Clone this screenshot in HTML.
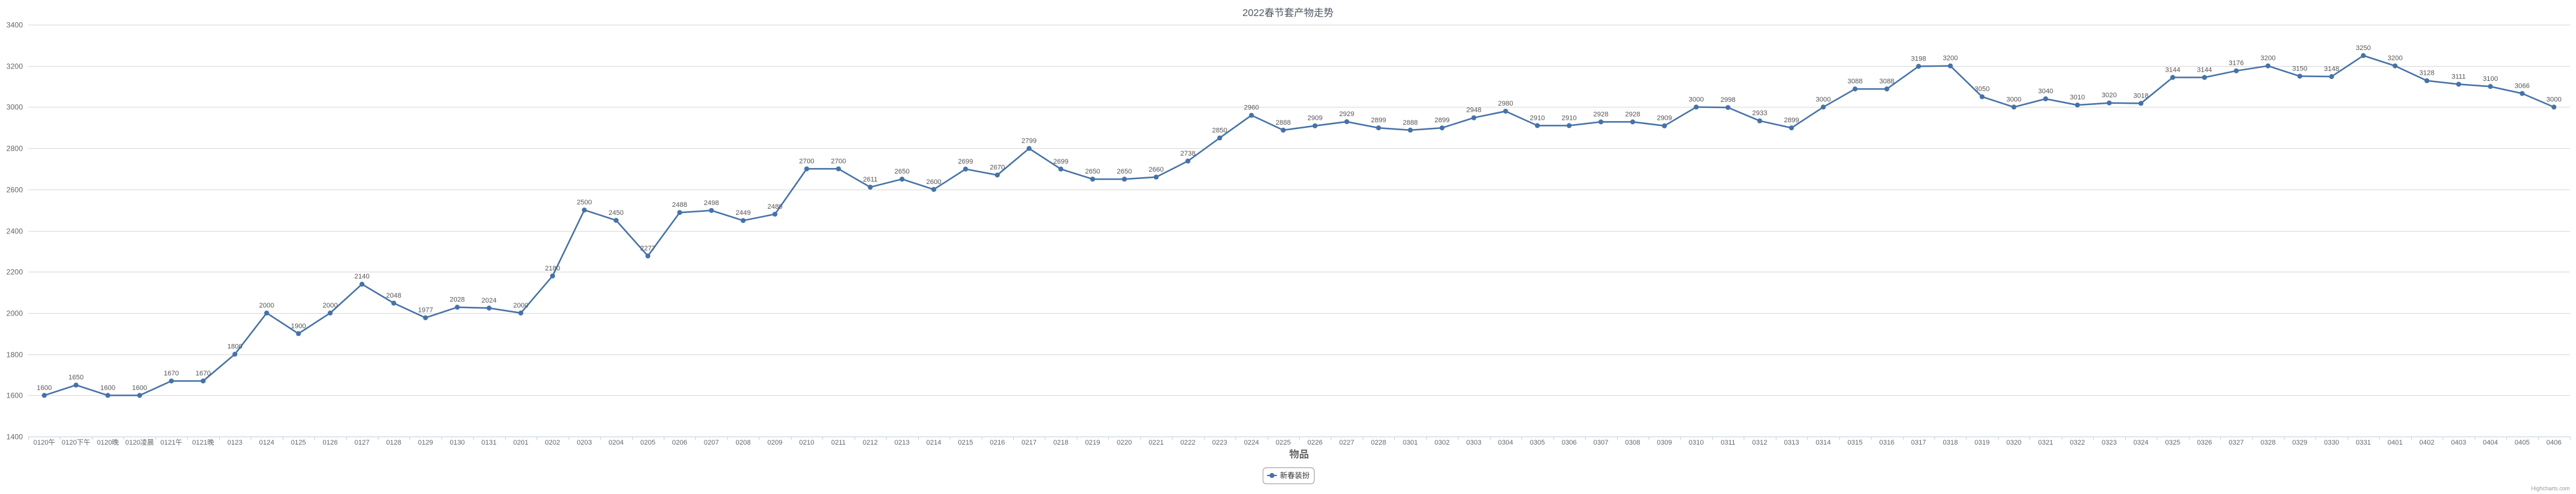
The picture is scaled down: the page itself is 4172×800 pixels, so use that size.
<!DOCTYPE html>
<html><head><meta charset="utf-8"><style>
html,body{margin:0;padding:0;background:#fff;}
svg{display:block;font-family:"Liberation Sans","Noto Sans CJK SC",sans-serif;}
</style></head><body>
<svg id="chart" width="4172" height="800" viewBox="0 0 4172 800">
<rect x="0" y="0" width="4172" height="800" fill="#fff"/>
<text x="2086" y="26" text-anchor="middle" font-size="16" fill="#4d5763">2022春节套产物走势</text>
<g id="grid"></g>
<g id="yaxis"></g>
<g id="xaxis"></g>
<text x="2104" y="741" text-anchor="middle" font-size="16" font-weight="bold" fill="#666">物品</text>
<g id="series"></g>
<g>
<rect x="2045.5" y="757.5" width="83" height="26" rx="5" fill="#fff" stroke="#999"/>
<line x1="2052" y1="770" x2="2068" y2="770" stroke="#4572a7" stroke-width="2"/>
<circle cx="2060" cy="770" r="4" fill="#4572a7"/>
<text x="2073" y="774" font-size="12" fill="#333">新春装扮</text>
</g>
<text x="4162" y="794" text-anchor="end" font-size="9" fill="#999">Highcharts.com</text>
</svg>
<script>
const categories = ["0120午","0120下午","0120晚","0120凌晨","0121午","0121晚","0123","0124","0125","0126","0127","0128","0129","0130","0131","0201","0202","0203","0204","0205","0206","0207","0208","0209","0210","0211","0212","0213","0214","0215","0216","0217","0218","0219","0220","0221","0222","0223","0224","0225","0226","0227","0228","0301","0302","0303","0304","0305","0306","0307","0308","0309","0310","0311","0312","0313","0314","0315","0316","0317","0318","0319","0320","0321","0322","0323","0324","0325","0326","0327","0328","0329","0330","0331","0401","0402","0403","0404","0405","0406"];
const seriesValues = [1600,1650,1600,1600,1670,1670,1800,2000,1900,2000,2140,2048,1977,2028,2024,2000,2180,2500,2450,2277,2488,2498,2449,2480,2700,2700,2611,2650,2600,2699,2670,2799,2699,2650,2650,2660,2738,2850,2960,2888,2909,2929,2899,2888,2899,2948,2980,2910,2910,2928,2928,2909,3000,2998,2933,2899,3000,3088,3088,3198,3200,3050,3000,3040,3010,3020,3018,3144,3144,3176,3200,3150,3148,3250,3200,3128,3111,3100,3066,3000];
const yTicks = [1400,1600,1800,2000,2200,2400,2600,2800,3000,3200,3400];

const NS = "http://www.w3.org/2000/svg";
const plotL = 46, plotR = 4162, plotT = 40, plotB = 707;
const yMin = 1400, yMax = 3400;
function yScale(v){ return plotB - (v - yMin) / (yMax - yMin) * (plotB - plotT); }
const band = (plotR - plotL) / categories.length;
function xScale(i){ return plotL + band * (i + 0.5); }
function mk(tag, attrs, parent){ const e = document.createElementNS(NS, tag); for (const k in attrs) e.setAttribute(k, attrs[k]); parent.appendChild(e); return e; }

const grid = document.getElementById('grid');
const yaxis = document.getElementById('yaxis');
yTicks.forEach(t => {
  const y = Math.round(yScale(t)) + 0.5;
  const gl = mk('line', {x1: plotL, x2: plotR, y1: y, y2: y, stroke: t === yMin ? '#c0d0e0' : '#d8d8d8', 'stroke-width': 1}, grid);
  
  
  const lb = mk('text', {x: 37, y: y + 4, 'text-anchor': 'end', 'font-size': 12, fill: '#666'}, yaxis);
  lb.textContent = t;
  
  
});

const xaxis = document.getElementById('xaxis');
for (let i = 0; i <= categories.length; i++) {
  const x = Math.round(plotL + band * i) + 0.5;
  const tk = mk('line', {x1: x, x2: x, y1: plotB, y2: plotB + 5, stroke: '#c0d0e0', 'stroke-width': 1}, xaxis);
  
  
}
categories.forEach((c, i) => {
  const lb = mk('text', {x: xScale(i), y: 720, 'text-anchor': 'middle', 'font-size': 11, fill: '#666'}, xaxis);
  lb.textContent = c;
  
  
});

const series = document.getElementById('series');
const pts = seriesValues.map((v, i) => xScale(i).toFixed(1) + ',' + yScale(v).toFixed(1)).join(' ');
const line = mk('polyline', {points: pts, fill: 'none', stroke: '#4572a7', 'stroke-width': 2.5, 'stroke-linejoin': 'round'}, series);


seriesValues.forEach((v, i) => {
  const c = mk('circle', {cx: xScale(i), cy: yScale(v), r: 4, fill: '#4572a7'}, series);
  
  
  const t = mk('text', {x: xScale(i), y: yScale(v) - 9, 'text-anchor': 'middle', 'font-size': 11, fill: '#555'}, series);
  t.textContent = v;
  
  
});
</script>
</body></html>
